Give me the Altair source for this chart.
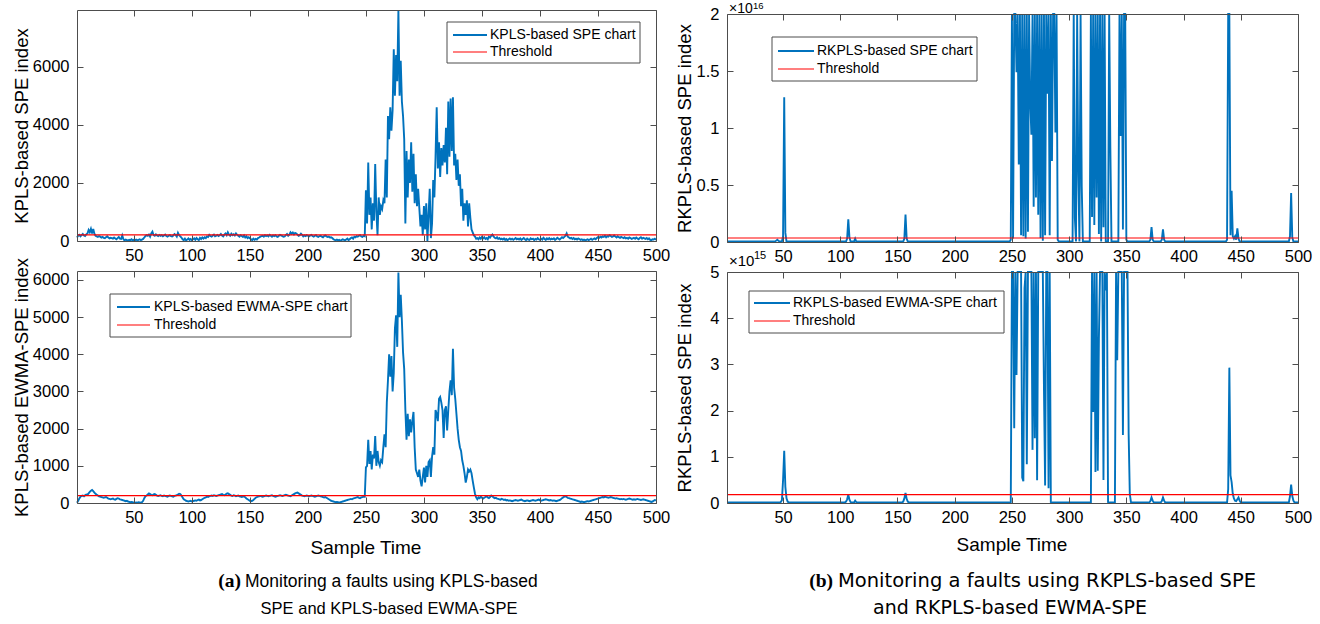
import altair as alt
import pandas as pd

W, H = 1320, 624
FONT = "Liberation Sans"
BLUE = "#0072BD"
RED = "#FF0000"
FRAME = "#4d4d4d"
LBL = 16.5
TS = 18.5
TICK = 6

# ---------------- data ----------------
sample_time = list(range(1, 501))

kpls_spe = [
    120, 180, 210, 160, 200, 240, 190, 170, 230, 260,
    380, 300, 420, 260, 410, 250, 180, 160, 140, 170,
    150, 120, 140, 110, 100, 130, 160, 120, 90, 110,
    100, 80, 120, 90, 60, 100, 140, 80, 70, 190,
    60, 20, 50, 30, 10, 40, 30, 60, 20, 40,
    30, 50, 20, 40, 60, 30, 50, 70, 120, 170,
    200, 180, 220, 150, 260, 320, 200, 180, 230, 190,
    170, 210, 180, 200, 160, 190, 220, 170, 150, 180,
    200, 170, 160, 190, 240, 210, 150, 280, 200, 160,
    120, 60, 30, 80, 20, 50, 90, 40, 70, 30,
    60, 90, 40, 100, 60, 30, 110, 70, 120, 80,
    130, 100, 160, 140, 210, 170, 150, 190, 220, 160,
    180, 210, 170, 200, 240, 190, 160, 220, 260, 200,
    300, 220, 180, 250, 200, 230, 190, 260, 210, 180,
    150, 200, 170, 140, 190, 120, 160, 100, 130, 90,
    60, 30, 80, 40, 70, 50, 100, 120, 150, 170,
    180, 150, 200, 170, 190, 160, 210, 180, 150, 190,
    170, 200, 160, 140, 180, 210, 190, 170, 150, 160,
    200, 240, 180, 220, 300, 250, 290, 230, 280, 260,
    220, 180, 200, 250, 210, 160, 190, 170, 200, 180,
    160, 190, 210, 170, 150, 180, 200, 160, 140, 170,
    180, 150, 130, 170, 190, 160, 140, 150, 120, 130,
    100, 60, 40, 30, 50, 20, 40, 10, 30, 60,
    40, 20, 50, 80, 30, 60, 100, 120, 80, 150,
    130, 170, 150, 180, 200, 160, 140, 180, 160, 1750,
    600, 2700, 900, 1500, 400, 1300, 700, 2650, 1000, 200,
    1500, 900, 1200, 1100, 1400, 1300, 2800, 1500, 4300, 3500,
    4600, 3800, 4500, 6600, 5000, 6400, 5500, 7950, 5000, 6200,
    4800, 4300, 3500, 600, 3100, 1500, 2800, 2000, 3400, 1700,
    3000, 1300, 2300, 1200, 1800, 1150, 500, 900, 200, 1200,
    400, 1300, 0, 900, 1800, 100, 600, 2100, 1500, 2900,
    4600, 2500, 3400, 2200, 3200, 2600, 3300, 2700, 3900, 2300,
    4800, 2900, 4900, 3100, 4950, 2600, 3000, 2100, 2800, 1900,
    2300, 1200, 1800, 700, 1300, 900, 1400, 500, 1300, 800,
    400, 300, 200, 150, 80, 100, 60, 120, 80, 140,
    90, 130, 70, 100, 60, 150, 120, 180, 220, 160,
    110, 90, 130, 70, 100, 60, 80, 50, 90, 40,
    70, 30, 60, 90, 50, 80, 40, 70, 100, 60,
    80, 50, 90, 40, 70, 100, 60, 30, 80, 50,
    40, 90, 60, 80, 30, 70, 50, 100, 60, 40,
    80, 50, 110, 70, 40, 90, 60, 100, 50, 80,
    60, 90, 40, 70, 110, 80, 50, 90, 130, 100,
    140, 180, 260, 150, 120, 90, 110, 70, 100, 60,
    80, 50, 90, 70, 40, 60, 30, 50, 20, 40,
    60, 30, 50, 80, 40, 70, 90, 60, 100, 130,
    110, 150, 120, 160, 140, 180, 130, 170, 150, 200,
    170, 140, 160, 190, 150, 120, 160, 130, 110, 140,
    120, 100, 130, 90, 110, 80, 120, 100, 70, 90,
    110, 80, 120, 90, 60, 100, 130, 80, 110, 90,
    70, 100, 60, 90, 40, 30, 60, 50, 80, 40,
]

kpls_ewma_spe = [
    10, 60, 120, 170, 190, 200, 180, 210, 230, 220,
    260, 300, 330, 350, 320, 280, 250, 220, 200, 180,
    170, 160, 150, 140, 150, 160, 140, 120, 110, 100,
    110, 120, 100, 90, 110, 130, 120, 100, 90, 80,
    70, 60, 50, 60, 40, 30, 20, 30, 20, 15,
    10, 15, 10, 20, 15, 10, 20, 60, 130, 180,
    200, 230, 260, 240, 220, 210, 230, 240, 220, 200,
    190, 200, 210, 190, 180, 200, 190, 180, 170, 190,
    200, 190, 180, 170, 190, 200, 210, 230, 250, 240,
    200, 150, 100, 80, 60, 50, 40, 50, 60, 40,
    50, 60, 70, 60, 80, 90, 70, 80, 100, 120,
    140, 150, 170, 160, 180, 190, 200, 190, 210, 200,
    190, 200, 210, 220, 230, 240, 220, 210, 230, 250,
    260, 240, 220, 200, 190, 210, 200, 180, 190, 200,
    180, 170, 160, 170, 180, 150, 120, 100, 80, 60,
    50, 60, 80, 110, 140, 160, 170, 180, 190, 180,
    170, 180, 190, 200, 190, 180, 190, 200, 210, 190,
    180, 170, 180, 190, 200, 210, 200, 190, 200, 210,
    220, 210, 200, 190, 180, 200, 220, 240, 260, 270,
    280, 260, 240, 220, 200, 190, 180, 190, 200, 190,
    180, 190, 200, 190, 180, 170, 180, 190, 200, 190,
    180, 170, 160, 150, 160, 140, 120, 100, 80, 60,
    50, 40, 30, 20, 30, 20, 10, 20, 30, 40,
    50, 60, 70, 80, 90, 100, 110, 100, 120, 130,
    140, 150, 160, 140, 130, 150, 160, 170, 170, 960,
    1000, 1700, 1050, 1400, 900, 1300, 1200, 1800, 1000, 1400,
    1100, 1000, 1150, 1100, 1500, 1850, 1500, 2700, 3300, 4000,
    3400, 3950, 3000, 3500, 4700, 5050, 4200, 6200, 5000, 5600,
    4900, 4050, 3600, 2500, 1700, 2400, 1800, 2250, 1900, 2200,
    2450, 1500, 900, 800, 700, 900, 600, 450, 700, 950,
    550, 1000, 700, 1100, 1150, 700, 1250, 1500, 1300, 2500,
    2400, 2200, 2800, 2850, 2700, 2500, 1750, 2500, 2600, 1950,
    2500, 3000, 3300, 2900, 4150, 3100, 2800, 2400, 2000, 1700,
    1500, 1400, 1150, 1000, 800, 550, 700, 900, 850, 900,
    800, 600, 420, 250, 150, 100, 150, 130, 170, 140,
    120, 140, 160, 180, 150, 130, 160, 200, 180, 150,
    130, 140, 120, 110, 100, 90, 110, 100, 80, 90,
    70, 80, 60, 70, 60, 50, 60, 70, 80, 70,
    60, 70, 80, 90, 70, 60, 50, 60, 70, 60,
    50, 60, 70, 80, 70, 60, 70, 80, 90, 70,
    60, 70, 80, 90, 100, 90, 80, 70, 80, 70,
    60, 70, 60, 50, 60, 70, 80, 100, 130, 150,
    170, 180, 160, 140, 130, 120, 110, 100, 90, 80,
    70, 60, 50, 40, 30, 40, 30, 20, 30, 40,
    50, 40, 50, 60, 70, 80, 90, 100, 110, 120,
    130, 140, 150, 160, 150, 170, 160, 150, 140, 150,
    160, 150, 140, 130, 120, 130, 120, 110, 100, 110,
    100, 110, 100, 90, 100, 110, 120, 110, 100, 90,
    100, 90, 100, 110, 100, 90, 80, 90, 100, 90,
    80, 70, 60, 50, 40, 30, 40, 60, 80, 70,
]

# RKPLS-based SPE, in units of 1e16 (values above 2 run off the axis)
rkpls_spe_points = [
    (1, 0.004), (43, 0.004), (44, 0.012), (45, 0.02), (46, 0.01), (47, 0.004),
    (49, 0.004), (50, 0.05), (51, 1.27), (52, 0.08), (53, 0.004),
    (105, 0.004), (106, 0.03), (107, 0.2), (108, 0.04), (109, 0.004),
    (112, 0.004), (113, 0.03), (114, 0.004),
    (155, 0.004), (156, 0.03), (157, 0.24), (158, 0.03), (159, 0.004),
    (248, 0.004), (249, 0.02), (250, 30), (251, 0.03), (252, 30), (253, 30),
    (254, 1.49), (255, 30), (256, 0.68), (257, 30), (258, 0.06), (259, 30),
    (260, 0.05), (261, 30), (262, 0.03), (263, 30), (264, 0.09), (265, 30),
    (266, 1.24), (267, 0.94), (268, 30), (269, 0.31), (270, 30), (271, 0.39),
    (272, 30), (273, 0.24), (274, 30), (275, 0.035), (276, 30), (277, 0.01),
    (278, 30), (279, 0.06), (280, 30), (281, 1.3), (282, 30), (283, 0.06),
    (284, 30), (285, 0.71), (286, 30), (287, 30), (288, 0.96), (289, 30),
    (290, 0.02), (291, 0.004),
    (303, 0.004), (304, 30), (305, 0.21), (306, 0.004), (307, 30), (308, 0.59),
    (309, 0.004), (310, 30), (311, 0.49), (312, 0.004),
    (318, 0.004), (319, 30), (320, 0.22), (321, 30), (322, 0.15), (323, 30),
    (324, 0.39), (325, 30), (326, 0.07), (327, 30), (328, 0.004), (329, 30),
    (330, 0.13), (331, 30), (332, 0.004), (334, 0.004), (335, 30), (336, 0.83),
    (337, 0.004), (343, 0.004), (344, 30), (345, 0.93), (346, 30), (347, 0.11),
    (348, 30), (349, 30), (350, 0.02), (351, 0.004),
    (370, 0.004), (371, 0.02), (372, 0.13), (373, 0.02), (374, 0.004),
    (380, 0.004), (381, 0.02), (382, 0.11), (383, 0.02), (384, 0.004),
    (437, 0.004), (438, 0.02), (439, 30), (440, 30), (441, 0.06), (442, 0.45),
    (443, 0.05), (444, 0.03), (445, 0.05), (446, 0.02), (447, 0.12), (448, 0.03),
    (449, 0.004), (492, 0.004), (493, 0.05), (494, 0.43), (495, 0.04),
    (496, 0.004), (500, 0.004),
]

# RKPLS-based EWMA-SPE, in units of 1e15 (values above 5 run off the axis)
rkpls_ewma_points = [
    (1, 0.01), (47, 0.01), (48, 0.02), (49, 0.06), (50, 0.5), (51, 1.13),
    (52, 0.35), (53, 0.1), (54, 0.03), (55, 0.01),
    (104, 0.01), (105, 0.03), (106, 0.08), (107, 0.18), (108, 0.07), (109, 0.02),
    (110, 0.01), (112, 0.01), (113, 0.05), (114, 0.02), (115, 0.01),
    (154, 0.01), (155, 0.03), (156, 0.1), (157, 0.22), (158, 0.09), (159, 0.03),
    (160, 0.01),
    (248, 0.01), (249, 0.02), (250, 40), (251, 40), (252, 1.62), (253, 40),
    (254, 2.77), (255, 40), (256, 40), (257, 40), (258, 40), (259, 0.55),
    (260, 0.47), (261, 4.65), (262, 40), (263, 0.84), (264, 40), (265, 40),
    (266, 40), (267, 40), (268, 1.15), (269, 40), (270, 1.4), (271, 40),
    (272, 0.49), (273, 40), (274, 40), (275, 40), (276, 40), (277, 40),
    (278, 2.47), (279, 0.38), (280, 40), (281, 40), (282, 0.32), (283, 40),
    (284, 0.02), (285, 0.01),
    (319, 0.01), (320, 40), (321, 1.97), (322, 40), (323, 0.67), (324, 40),
    (325, 0.7), (326, 3.56), (327, 40), (328, 40), (329, 40), (330, 0.5),
    (331, 40), (332, 4.6), (333, 40), (334, 0.02), (335, 0.01),
    (340, 0.01), (341, 40), (342, 3.09), (343, 40), (344, 40), (345, 40),
    (346, 40), (347, 1.47), (348, 40), (349, 40), (350, 40), (351, 8),
    (352, 1.5), (353, 0.2), (354, 0.02), (355, 0.01),
    (370, 0.01), (371, 0.04), (372, 0.12), (373, 0.05), (374, 0.01),
    (380, 0.01), (381, 0.04), (382, 0.12), (383, 0.05), (384, 0.01),
    (438, 0.01), (439, 0.3), (440, 2.93), (441, 0.6), (442, 0.45), (443, 0.2),
    (444, 0.1), (445, 0.05), (446, 0.04), (447, 0.08), (448, 0.12), (449, 0.05),
    (450, 0.01), (492, 0.01), (493, 0.15), (494, 0.4), (495, 0.15), (496, 0.05),
    (497, 0.01), (500, 0.01),
]

threshold_t = [1, 500]
kpls_spe_limit = 210
kpls_ewma_limit = 200
rkpls_spe_limit = 0.035     # x 1e16
rkpls_ewma_limit = 0.18     # x 1e15

x_tick_values = [50, 100, 150, 200, 250, 300, 350, 400, 450, 500]
ticks_tl = [0, 2000, 4000, 6000]
ticks_bl = [0, 1000, 2000, 3000, 4000, 5000, 6000]
ticks_tr = [0, 0.5, 1, 1.5, 2]
ticks_br = [0, 1, 2, 3, 4, 5]

assert len(kpls_spe) == 500 and len(kpls_ewma_spe) == 500

# ---------------- layout ----------------
P_TL = dict(L=77, R=656, T=10, B=241, ydom=[0, 7950], yt=ticks_tl, tx=21, fmt="d")
P_BL = dict(L=77, R=656, T=271, B=503, ydom=[0, 6240], yt=ticks_bl, tx=21, fmt="d")
P_TR = dict(L=727, R=1298, T=14, B=242, ydom=[0, 2], yt=ticks_tr, tx=684, fmt="~g")
P_BR = dict(L=727, R=1298, T=272, B=503, ydom=[0, 5], yt=ticks_br, tx=684, fmt="d")

one = pd.DataFrame({"k": [0]})


def text(s, x, y, size, align="center", baseline="middle", font=FONT,
         weight="normal", angle=0):
    return alt.Chart(one).mark_text(
        text=s, align=align, baseline=baseline, font=font, fontSize=size,
        fontWeight=weight, angle=angle, color="black",
    ).encode(x=alt.value(x), y=alt.value(y))


def panel_layers(p, t, v, thr, title):
    xs = alt.Scale(domain=[1, 500], range=[p["L"], p["R"]], nice=False, zero=False)
    ys = alt.Scale(domain=p["ydom"], range=[p["B"], p["T"]], nice=False,
                   zero=False, clamp=True)
    df = pd.DataFrame({"t": t, "v": v})
    dthr = pd.DataFrame({"t": threshold_t, "v": [thr, thr]})

    lab = dict(labelFont=FONT, labelFontSize=LBL, labelColor="black",
               labelFlush=False, labelOverlap=False, grid=False)
    line = alt.Chart(df).mark_line(color=BLUE, strokeWidth=1.9).encode(
        x=alt.X("t:Q", scale=xs, axis=alt.Axis(
            orient="bottom", offset=p["B"] - H, values=x_tick_values,
            format="d", ticks=False, tickSize=0, labelPadding=6, domain=True,
            domainColor=FRAME, title=None, zindex=1, **lab)),
        y=alt.Y("v:Q", scale=ys, axis=alt.Axis(
            orient="left", offset=-p["L"], values=p["yt"], format=p["fmt"],
            ticks=False, tickSize=0, labelPadding=8, domain=True,
            domainColor=FRAME, title=title, titleX=p["tx"] - p["L"],
            titleY=(p["T"] + p["B"]) / 2, titleAngle=270, titleAlign="center",
            titleBaseline="middle", titleFont=FONT, titleFontSize=TS,
            titleFontWeight="normal", titleColor="black", zindex=1, **lab)),
    )
    thr_line = alt.Chart(dthr).mark_line(color=RED, strokeWidth=1.2).encode(
        x=alt.X("t:Q", scale=xs, axis=alt.Axis(
            orient="top", offset=-p["B"], values=x_tick_values, labels=False,
            domain=False, ticks=True, tickSize=TICK, tickColor=FRAME,
            grid=False, title=None, zindex=1)),
        y=alt.Y("v:Q", scale=ys, axis=alt.Axis(
            orient="right", offset=p["L"] - W, values=p["yt"], labels=False,
            domain=False, ticks=True, tickSize=TICK, tickColor=FRAME,
            grid=False, title=None, zindex=1)),
    )
    frame = alt.Chart(dthr).mark_line(opacity=0).encode(
        x=alt.X("t:Q", scale=xs, axis=alt.Axis(
            orient="bottom", offset=p["T"] - H, values=x_tick_values,
            labels=False, domain=True, domainColor=FRAME, ticks=True,
            tickSize=TICK, tickColor=FRAME, grid=False, title=None, zindex=1)),
        y=alt.Y("v:Q", scale=ys, axis=alt.Axis(
            orient="left", offset=-p["R"], values=p["yt"], labels=False,
            domain=True, domainColor=FRAME, ticks=True, tickSize=TICK,
            tickColor=FRAME, grid=False, title=None, zindex=1)),
    )
    return [line, thr_line, frame]


def legend(x1, y1, x2, y2, label, r1, r2, sx1, sx2, tx):
    box = alt.Chart(one).mark_rect(fill="white", stroke=FRAME, strokeWidth=1).encode(
        x=alt.value(x1), x2=alt.value(x2), y=alt.value(y1), y2=alt.value(y2))
    s1 = alt.Chart(one).mark_rule(color=BLUE, strokeWidth=2.2).encode(
        x=alt.value(sx1), x2=alt.value(sx2), y=alt.value(r1))
    s2 = alt.Chart(one).mark_rule(color=RED, strokeWidth=1.2).encode(
        x=alt.value(sx1), x2=alt.value(sx2), y=alt.value(r2))
    t1 = text(label, tx, r1, 14, align="left")
    t2 = text("Threshold", tx, r2, 14, align="left")
    return [box, s1, s2, t1, t2]


layers = []
layers += panel_layers(P_TL, sample_time, kpls_spe, kpls_spe_limit,
                       "KPLS-based SPE index")
layers += panel_layers(P_BL, sample_time, kpls_ewma_spe, kpls_ewma_limit,
                       "KPLS-based EWMA-SPE index")
layers += panel_layers(P_TR, [a for a, _ in rkpls_spe_points],
                       [b for _, b in rkpls_spe_points], rkpls_spe_limit,
                       "RKPLS-based SPE index")
layers += panel_layers(P_BR, [a for a, _ in rkpls_ewma_points],
                       [b for _, b in rkpls_ewma_points], rkpls_ewma_limit,
                       "RKPLS-based SPE index")

layers += legend(447, 22, 640, 63, "KPLS-based SPE chart", 35, 52, 453, 487, 490)
layers += legend(110, 294, 351, 337, "KPLS-based EWMA-SPE chart", 307, 325, 117, 150, 154)
layers += legend(772, 37, 977, 81, "RKPLS-based SPE chart", 51, 69, 778, 814, 817)
layers += legend(749, 291, 1004, 333, "RKPLS-based EWMA-SPE chart", 303, 321, 754, 790, 793)

# exponent labels
layers += [
    text("\u00d710", 729, 13, 14, align="left", baseline="alphabetic"),
    text("16", 753, 9, 9.5, align="left", baseline="alphabetic"),
    text("\u00d710", 729, 266, 15, align="left", baseline="alphabetic"),
    text("15", 754, 259, 11, align="left", baseline="alphabetic"),
]

# x titles
layers += [
    text("Sample Time", 366, 548, 19),
    text("Sample Time", 1012, 545, 19),
]

# captions
layers += [
    text("(a)", 241, 587, 19.5, align="right", baseline="alphabetic",
         font="Liberation Serif", weight="bold"),
    text("Monitoring a faults using KPLS-based", 245, 587, 17.5, align="left",
         baseline="alphabetic"),
    text("SPE and KPLS-based EWMA-SPE", 389, 614, 16.5, baseline="alphabetic"),
    text("(b)", 833, 587, 19.5, align="right", baseline="alphabetic",
         font="Liberation Serif", weight="bold"),
    text("Monitoring a faults using RKPLS-based SPE", 838, 587, 19.5,
         align="left", baseline="alphabetic", font="DejaVu Sans"),
    text("and RKPLS-based EWMA-SPE", 1010, 614, 19, baseline="alphabetic",
         font="DejaVu Sans"),
]

chart = alt.layer(*layers).resolve_scale(
    x="independent", y="independent"
).properties(
    width=W, height=H, padding=0, autosize=alt.AutoSizeParams(type="none"),
    background="white",
).configure_view(strokeWidth=0)

chart.save("out.html", embed_options={"renderer": "svg", "actions": False})
